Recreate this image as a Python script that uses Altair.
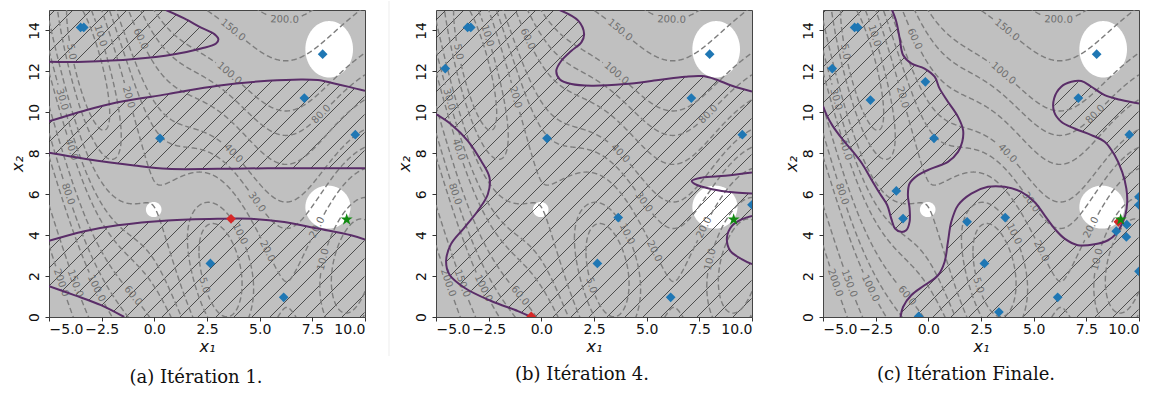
import numpy as np
import pandas as pd
import altair as alt

# ---------------------------------------------------------------- layout
W, H = 316, 307
X_DOM = [-5.0, 10.0]
Y_DOM = [0.0, 15.0]

# ---------------------------------------------------------------- objective (Branin)
BR_A = 1.0
BR_B = 5.1 / (4 * np.pi ** 2)
BR_C = 5 / np.pi
BR_R = 6.0
BR_S = 10.0
BR_T = 1 / (8 * np.pi)

LEVELS = [5, 10, 20, 30, 40, 60, 80, 100, 150, 200]

# contour label anchors
LABEL_LEVEL = [200, 150, 100, 80, 40, 30, 20, 10, 20, 10, 5,
               60, 100, 150, 200, 80, 40, 30, 20, 5, 10, 60]
LABEL_X1 = [6.17, 3.64, 3.48, 7.99, 3.64, 4.75, 7.75, 8.10, 5.06, 3.75, 2.69,
            -0.98, -2.77, -3.80, -4.51, -4.11, -4.04, -4.43, -1.34, -4.11, -2.77, -0.71]
LABEL_X2 = [14.38, 13.90, 11.79, 9.84, 7.89, 5.54, 4.35, 2.80, 3.05, 3.90, 1.64,
            1.07, 1.40, 1.64, 1.64, 6.02, 8.13, 10.65, 10.73, 12.92, 13.65, 13.57]

# white excluded zones: centre and half-axes
HOLE_X1 = [8.30, 8.24, -0.03]
HOLE_X2 = [13.08, 5.37, 5.25]
HOLE_A = [1.13, 1.07, 0.37]
HOLE_B = [1.38, 1.05, 0.37]

# ---------------------------------------------------------------- iteration 1
A_CURVE_1 = [(-5, 12.47), (-3.32, 12.47), (-0.95, 12.60), (0.95, 12.84), (2.22, 13.12),
             (2.93, 13.36), (3.04, 13.57), (2.85, 13.82), (2.22, 14.14), (1.42, 14.59), (0.55, 15)]
A_CURVE_2 = [(-5, 9.56), (-3.32, 10.08), (-1.74, 10.49), (0.63, 10.89), (3.01, 11.30),
             (5.38, 11.54), (6.96, 11.61), (7.76, 11.58), (8.54, 11.41), (9.34, 11.22), (10, 11.05)]
A_CURVE_3 = [(-5, 8.02), (-3.32, 7.73), (-0.95, 7.40), (0.63, 7.24), (3.01, 7.24),
             (5.38, 7.27), (10, 7.27)]
A_CURVE_4 = [(-5, 3.72), (-3.32, 4.19), (-1.74, 4.48), (0.63, 4.72), (3.01, 4.80),
             (4.59, 4.80), (6.17, 4.64), (7.76, 4.32), (9.34, 3.99), (10, 3.78)]
A_CURVE_5 = [(-5, 1.51), (-3.80, 1.07), (-2.53, 0.58), (-1.43, 0)]
A_PTS_X1 = [-3.50, -3.35, 7.99, 7.12, 0.27, 9.54, 2.66, 6.14]
A_PTS_X2 = [14.15, 14.15, 12.84, 10.70, 8.73, 8.91, 2.62, 0.96]
A_NEW = (3.64, 4.80)

# ---------------------------------------------------------------- iteration 4
B_CURVE_1 = [(0.87, 15), (1.75, 14.48), (2.03, 13.83), (1.90, 13.42), (1.43, 13.01),
             (0.95, 12.52), (0.71, 12.03), (0.87, 11.62), (1.43, 11.38), (2.38, 11.30),
             (3.97, 11.38), (5.56, 11.58), (6.83, 11.74), (7.62, 11.77), (8.25, 11.62),
             (9.05, 11.30), (10, 11.02)]
B_CURVE_2 = [(-5, 9.91), (-4.29, 9.42), (-3.49, 8.61), (-2.86, 7.63), (-2.46, 6.81),
             (-2.54, 6.00), (-3.02, 5.18), (-3.65, 4.37), (-4.29, 3.56), (-4.52, 2.74),
             (-4.37, 2.09), (-3.65, 1.43), (-2.38, 0.78), (-1.11, 0.29), (-0.48, 0)]
B_CURVE_3 = [(10, 7.06), (8.73, 6.90), (7.62, 6.81), (7.14, 6.65), (7.30, 6.49),
             (8.10, 6.24), (9.21, 6.08), (10, 6.03)]
B_CURVE_4 = [(10, 4.94), (9.53, 4.78), (9.05, 4.45), (8.81, 3.88), (8.97, 3.23),
             (9.53, 2.82), (10, 2.58)]
B_PTS_X1 = [-3.50, -3.35, 7.99, 7.12, 0.27, 9.54, 2.66, 6.14, -4.56, 3.65, 10.0]
B_PTS_X2 = [14.15, 14.15, 12.84, 10.70, 8.73, 8.91, 2.62, 0.96, 12.14, 4.86, 5.48]
B_NEW = (-0.48, 0.03)

# ---------------------------------------------------------------- final iteration
C_CURVE_1 = [(-1.72, 15), (-1.52, 14.43), (-1.36, 13.61), (-1.20, 12.80), (-0.81, 12.39),
             (-0.18, 12.14), (0.30, 11.74), (0.53, 11.17), (0.93, 10.52), (1.41, 9.78),
             (1.65, 9.13), (1.61, 8.56), (1.41, 8.07), (0.93, 7.58), (0.14, 7.25),
             (-0.49, 6.93), (-0.89, 6.52), (-0.97, 5.95), (-0.89, 5.30), (-0.89, 4.65),
             (-1.05, 4.24), (-1.30, 4.16), (-1.58, 4.32), (-1.76, 4.81), (-1.95, 5.46),
             (-2.30, 6.03), (-2.75, 6.80), (-3.15, 7.50), (-3.60, 8.10), (-4.05, 8.65),
             (-4.55, 9.35), (-4.82, 9.85), (-5, 10.30)]
C_CURVE_2 = [(-1.32, 0), (-1.20, 0.49), (-0.81, 1.06), (-0.18, 1.55), (0.46, 2.04),
             (0.77, 2.69), (0.93, 3.67), (1.09, 4.65), (1.41, 5.46), (2.04, 6.03),
             (2.83, 6.36), (3.62, 6.36), (4.41, 6.11), (5.04, 5.62), (5.52, 4.97),
             (5.99, 4.32), (6.47, 3.83), (7.10, 3.51), (7.89, 3.55), (8.53, 3.75),
             (8.92, 4.07), (9.16, 4.48), (9.35, 4.97), (9.44, 5.62), (9.40, 6.27),
             (9.20, 7.09), (8.84, 7.91), (8.37, 8.56), (7.74, 8.89), (6.94, 9.21),
             (6.31, 9.54), (5.97, 10.03), (5.97, 10.68), (6.31, 11.25), (6.79, 11.49),
             (7.26, 11.53), (7.74, 11.25), (8.37, 10.84), (9.16, 10.60), (10, 10.43)]
C_PTS_X1 = [-3.50, -3.35, 7.99, 7.12, 0.27, 9.54, 2.66, 6.14, -4.56, 3.65, 10.0,
            -0.46, -0.14, -2.75, -1.52, -1.20, 1.84, 3.35, 8.92, 9.42, 9.40, 10.0, 10.0]
C_PTS_X2 = [14.15, 14.15, 12.84, 10.70, 8.73, 8.91, 2.62, 0.96, 12.14, 4.86, 5.48,
            0.03, 11.49, 10.60, 6.16, 4.81, 4.65, 0.24, 4.19, 4.51, 3.91, 5.87, 2.23]
C_NEW = (9.02, 4.65)

BEST = (9.13, 4.76)

CAPTIONS = ["(a) Itération 1.", "(b) Itération 4.", "(c) Itération Finale."]

# ---------------------------------------------------------------- styles
GRAY_BG = "#c0c0c0"
CONTOUR = "#7d7d7d"
PURPLE = "#5a2d68"
HATCH = "#2e2e2e"
BLUE = "#1f77b4"
RED = "#d62728"
GREEN = "#118a11"
STAR_PATH = ("M0,-1L0.2245,-0.309L0.951,-0.309L0.363,0.118L0.588,0.809L0,0.382"
             "L-0.588,0.809L-0.363,0.118L-0.951,-0.309L-0.2245,-0.309Z")


def to_px(xy):
    xy = np.asarray(xy, float)
    return np.column_stack([(xy[:, 0] - X_DOM[0]) / (X_DOM[1] - X_DOM[0]) * W,
                            (Y_DOM[1] - xy[:, 1]) / (Y_DOM[1] - Y_DOM[0]) * H])


def trend(x1):
    return BR_B * x1 ** 2 - BR_C * x1 + BR_R


def wave(x1):
    return BR_S * (1 - BR_T) * np.cos(x1) + BR_S


def level_lines(level):
    """Iso-lines of the objective, solved for x2 on both sides of the valley."""
    amp = BR_S * (1 - BR_T)
    out = []
    if level - BR_S - amp > 0:
        xs = np.linspace(X_DOM[0], X_DOM[1], 700)
        root = np.sqrt((level - wave(xs)) / BR_A)
        out.append(np.column_stack([xs, trend(xs) + root]))
        out.append(np.column_stack([xs, trend(xs) - root]))
    else:
        half = np.arccos((level - BR_S) / amp)
        for k in range(-2, 3):
            lo, hi = 2 * np.pi * k + half, 2 * np.pi * (k + 1) - half
            if hi < X_DOM[0] or lo > X_DOM[1]:
                continue
            mid, wid = (lo + hi) / 2, (hi - lo) / 2
            th = np.linspace(0, 2 * np.pi, 500)
            xs = mid - wid * np.cos(th)
            root = np.sqrt(np.clip((level - wave(xs)) / BR_A, 0, None))
            ys = trend(xs) + np.where(th <= np.pi, 1.0, -1.0) * root
            out.append(np.column_stack([xs, ys]))
    return out


lines = {L: level_lines(L) for L in LEVELS}

# ---- inline labels: snap to the iso-line, orient along it, open a gap
label_rows = []
cuts = {L: [] for L in LEVELS}
for L, lx, ly in zip(LABEL_LEVEL, LABEL_X1, LABEL_X2):
    target = to_px([(lx, ly)])[0]
    best = None
    for li, line in enumerate(lines[L]):
        p = to_px(line)
        d = np.hypot(p[:, 0] - target[0], p[:, 1] - target[1])
        i = int(d.argmin())
        if best is None or d[i] < best[0]:
            best = (d[i], li, i)
    _, li, i = best
    p = to_px(lines[L][li])
    j0, j1 = max(i - 4, 0), min(i + 4, len(p) - 1)
    u = p[j1] - p[j0]
    u = u / np.hypot(*u)
    ang = np.degrees(np.arctan2(u[1], u[0]))
    if ang > 90:
        ang -= 180
    if ang <= -90:
        ang += 180
    text = f"{L:.1f}"
    width = (len(text) - 1) * 6.36 + 3.18
    cuts[L].append((p[i], u, width / 2 + 2.5))
    label_rows.append({"x1": lines[L][li][i, 0], "x2": lines[L][li][i, 1],
                       "txt": text, "ang": ang % 360})
labels_df = pd.DataFrame(label_rows)

contour_rows = []
lid = 0
for L in LEVELS:
    for line in lines[L]:
        p = to_px(line)
        keep = np.ones(len(line), bool)
        for c, u, half in cuts[L]:
            d = p - c
            along = d @ u
            perp = np.abs(d[:, 0] * u[1] - d[:, 1] * u[0])
            keep &= ~((np.abs(along) < half) & (perp < 7))
        idx = np.flatnonzero(keep)
        if len(idx) == 0:
            continue
        for seg in np.split(idx, np.flatnonzero(np.diff(idx) > 1) + 1):
            if len(seg) < 2:
                continue
            for k, j in enumerate(seg):
                contour_rows.append((float(line[j, 0]), float(line[j, 1]), lid, k))
            lid += 1
contour_df = pd.DataFrame(contour_rows, columns=["x1", "x2", "lid", "ord"])

# ---- white zones as filled ellipses
hole_rows = []
th = np.linspace(0, np.pi, 60)
for h, (cx, cy, a, b) in enumerate(zip(HOLE_X1, HOLE_X2, HOLE_A, HOLE_B)):
    for t in th:
        hole_rows.append({"hid": h, "x1": cx - a * np.cos(t),
                          "lo": cy - b * np.sin(t), "hi": cy + b * np.sin(t)})
holes_df = pd.DataFrame(hole_rows)


def inside(px, py, poly):
    poly = np.asarray(poly, float)
    x0, y0 = poly[:, 0], poly[:, 1]
    xa, ya = np.roll(x0, -1), np.roll(y0, -1)
    px = px[:, None]
    py = py[:, None]
    cond = (y0 > py) != (ya > py)
    xint = x0 + (py - y0) * (xa - x0) / np.where(ya == y0, 1e-12, ya - y0)
    return ((cond & (px < xint)).sum(axis=1) % 2) == 1


def hatch_df(polys, phase, step=18.0):
    rows = []
    for c in np.arange(phase, W + H, step):
        xs = np.arange(max(0.0, c - H), min(W, c) + 1e-9, 0.5)
        if len(xs) < 2:
            continue
        ys = c - xs
        dx = X_DOM[0] + xs / W * (X_DOM[1] - X_DOM[0])
        dy = Y_DOM[1] - ys / H * (Y_DOM[1] - Y_DOM[0])
        ins = np.zeros(len(xs), bool)
        for poly in polys:
            ins |= inside(dx, dy, poly)
        idx = np.flatnonzero(ins)
        if len(idx) == 0:
            continue
        for seg in np.split(idx, np.flatnonzero(np.diff(idx) > 1) + 1):
            if len(seg) < 2:
                continue
            rows.append({"ha": dx[seg[0]], "hb": dy[seg[0]],
                         "hc": dx[seg[-1]], "hd": dy[seg[-1]]})
    return pd.DataFrame(rows)


def curves_df(curves):
    rows = []
    for ci, cur in enumerate(curves):
        for k, (a, b) in enumerate(cur):
            rows.append({"cid": ci, "ord": k, "x1": a, "x2": b})
    return pd.DataFrame(rows)


def xenc(field):
    return alt.X(field, type="quantitative",
                 scale=alt.Scale(domain=X_DOM, nice=False, zero=False, padding=0),
                 axis=alt.Axis(values=[-5, -2.5, 0, 2.5, 5, 7.5, 10], format=".1f",
                               labelPadding=1, title="x₁", titleX=W / 2, titleY=29,
                               titleBaseline="middle"))


def yenc(field):
    return alt.Y(field, type="quantitative",
                 scale=alt.Scale(domain=Y_DOM, nice=False, zero=False, padding=0),
                 axis=alt.Axis(values=list(range(0, 15, 2)), format="d",
                               labelAngle=270, labelAlign="center", labelBaseline="bottom",
                               labelPadding=4, title="x₂", titleX=-32, titleY=H / 2,
                               titleAngle=270, titleAlign="center", titleBaseline="middle"))


def panel(curves, polys, px1, px2, new_pt, caption, phase, dx, extra=()):
    pts = pd.DataFrame({"x1": px1, "x2": px2})
    new = pd.DataFrame({"x1": [new_pt[0]], "x2": [new_pt[1]]})
    best = pd.DataFrame({"x1": [BEST[0]], "x2": [BEST[1]]})

    holes = alt.Chart(holes_df).mark_area(color="white", opacity=1, clip=True).encode(
        x=xenc("x1"), y=yenc("lo"), y2="hi", detail="hid:N")
    hatch = alt.Chart(hatch_df(polys, phase)).mark_rule(
        color=HATCH, strokeWidth=0.8, clip=True).encode(
        x=xenc("ha"), y=yenc("hb"), x2="hc", y2="hd")
    iso = alt.Chart(contour_df).mark_line(
        color=CONTOUR, strokeWidth=1.4, strokeDash=[5.5, 3], clip=True).encode(
        x=xenc("x1"), y=yenc("x2"), detail="lid:N", order="ord:Q")
    txt = alt.Chart(labels_df).mark_text(
        font="DejaVu Sans", fontSize=10, color="#6f6f6f", align="center",
        baseline="middle", clip=True).encode(
        x=xenc("x1"), y=yenc("x2"), text="txt:N", angle=alt.Angle("ang:Q", scale=None))
    bound = alt.Chart(curves_df(curves)).mark_line(
        color=PURPLE, strokeWidth=2, interpolate="catmull-rom", clip=True).encode(
        x=xenc("x1"), y=yenc("x2"), detail="cid:N", order="ord:Q")
    dots = alt.Chart(pts).mark_point(
        shape="diamond", filled=True, size=95, color=BLUE, opacity=1, clip=True).encode(
        x=xenc("x1"), y=yenc("x2"))
    newdot = alt.Chart(new).mark_point(
        shape="diamond", filled=True, size=95, color=RED, opacity=1, clip=True).encode(
        x=xenc("x1"), y=yenc("x2"))
    star = alt.Chart(best).mark_point(
        shape=STAR_PATH, filled=True, size=160, color=GREEN, opacity=1, clip=True).encode(
        x=xenc("x1"), y=yenc("x2"))

    return alt.layer(holes, hatch, iso, txt, bound, dots, newdot, star, *extra).properties(
        width=W, height=H,
        title=alt.TitleParams(caption, orient="bottom", anchor="middle", frame="group",
                              font="DejaVu Serif", fontSize=18, fontWeight="normal",
                              color="#111", offset=12, dx=dx))


# thin page divider to the right of the first figure
divider = alt.Chart(pd.DataFrame({"d": [0]})).mark_rule(
    color="#ededed", strokeWidth=1).encode(
    x=alt.value(W + 24), y=alt.value(-9), y2=alt.value(H + 39))

A_POLYS = [[(-5, 15)] + A_CURVE_1,
           A_CURVE_2 + A_CURVE_3[::-1],
           A_CURVE_4 + [(10, 0)] + A_CURVE_5[::-1]]
B_POLYS = [[(-5, 15)] + B_CURVE_1 + B_CURVE_3 + B_CURVE_4 + [(10, 0)] + B_CURVE_2[::-1]]
C_POLYS = [[(-5, 15)] + C_CURVE_1,
           C_CURVE_2 + [(10, 0)]]

pa = panel([A_CURVE_1, A_CURVE_2, A_CURVE_3, A_CURVE_4, A_CURVE_5], A_POLYS,
           A_PTS_X1, A_PTS_X2, A_NEW, CAPTIONS[0], 6, -11, extra=(divider,))
pb = panel([B_CURVE_1, B_CURVE_2, B_CURVE_3, B_CURVE_4], B_POLYS,
           B_PTS_X1, B_PTS_X2, B_NEW, CAPTIONS[1], 10, -12)
pc = panel([C_CURVE_1, C_CURVE_2], C_POLYS,
           C_PTS_X1, C_PTS_X2, C_NEW, CAPTIONS[2], 3, -15)

chart = alt.hconcat(pa, pb, pc, spacing=71, bounds="flush").properties(
    padding={"left": 8, "top": 0, "right": 0, "bottom": 0},
    background="white",
).configure_view(
    fill=GRAY_BG, stroke="#454545", strokeWidth=1,
).configure_axis(
    grid=False, domain=False, labelFont="DejaVu Sans", labelFontSize=14,
    labelColor="#111", tickColor="#333", tickSize=4,
    titleFont="DejaVu Sans", titleFontSize=16, titleFontWeight="normal",
    titleFontStyle="italic", titleColor="#111",
)

chart.save("out.html", embed_options={"renderer": "svg", "actions": False})
